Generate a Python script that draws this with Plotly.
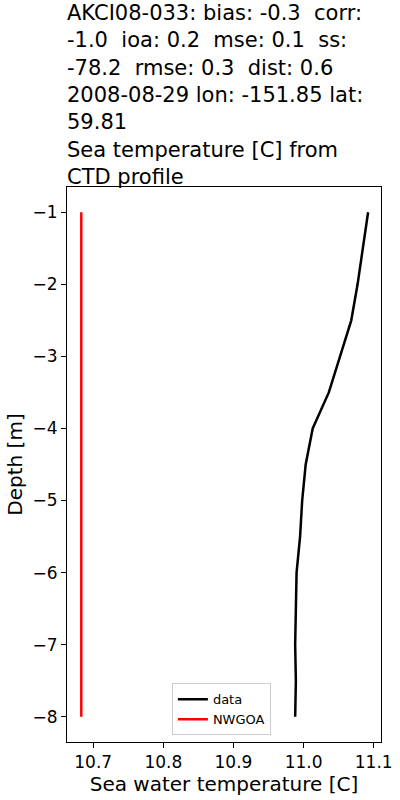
import plotly.graph_objects as go

depth = [-1.0, -1.5, -2.0, -2.5, -3.0, -3.5, -4.0, -4.5, -5.0, -5.5, -6.0, -6.5, -7.0, -7.5, -8.0]
data_temp = [11.092, 11.085, 11.077, 11.068, 11.052, 11.036, 11.013, 11.003, 10.998, 10.995,
             10.990, 10.989, 10.988, 10.989, 10.988]
model_depth = [-1.0, -8.0]
model_temp = [10.683, 10.683]

title_lines = [
    "AKCI08-033: bias: -0.3  corr:",
    "-1.0  ioa: 0.2  mse: 0.1  ss:",
    "-78.2  rmse: 0.3  dist: 0.6",
    "2008-08-29 lon: -151.85 lat:",
    "59.81",
    "Sea temperature [C] from",
    "CTD profile",
]

FONT = "DejaVu Sans"
L, R, T, B = 67, 19, 187, 58
PH = 800 - T - B

fig = go.Figure()
fig.add_trace(go.Scatter(x=data_temp, y=depth, mode="lines", name="data",
                         line=dict(color="black", width=2.5)))
fig.add_trace(go.Scatter(x=model_temp, y=model_depth, mode="lines", name="NWGOA",
                         line=dict(color="red", width=2.5)))

fig.add_annotation(text="<br>".join(title_lines), xref="paper", yref="paper",
                   x=0, xanchor="left", y=(800 - B + 1) / PH, yanchor="top",
                   align="left", showarrow=False, xshift=-2,
                   font=dict(family=FONT, size=21, color="black"))

fig.update_layout(
    width=400, height=800,
    margin=dict(l=L, r=R, t=T, b=B, autoexpand=False),
    paper_bgcolor="white", plot_bgcolor="white",
    font=dict(family=FONT, color="black", size=17),
    showlegend=True,
    legend=dict(x=0.334, y=0.012, xanchor="left", yanchor="bottom",
                bordercolor="#cccccc", borderwidth=1, bgcolor="white",
                font=dict(family=FONT, size=13)),
)
fig.update_xaxes(range=[10.6626, 11.1104], tickvals=[10.7, 10.8, 10.9, 11.0, 11.1],
                 ticktext=["10.7", "10.8", "10.9", "11.0", "11.1"],
                 showgrid=False, zeroline=False, showline=True, mirror=True,
                 linecolor="black", linewidth=1, ticks="outside", ticklen=5,
                 tickcolor="black", automargin=False,
                 title=dict(text="Sea water temperature [C]", standoff=4),
                 tickfont=dict(size=17))
fig.update_yaxes(range=[-8.35, -0.65], tickvals=[-8, -7, -6, -5, -4, -3, -2, -1],
                 showgrid=False, zeroline=False, showline=True, mirror=True,
                 linecolor="black", linewidth=1, ticks="outside", ticklen=5,
                 tickcolor="black", automargin=False,
                 title=dict(text="Depth [m]", standoff=4),
                 tickfont=dict(size=17))

fig.write_html("out.html", config={"displayModeBar": False},
               post_script="document.body.style.margin='0';")
